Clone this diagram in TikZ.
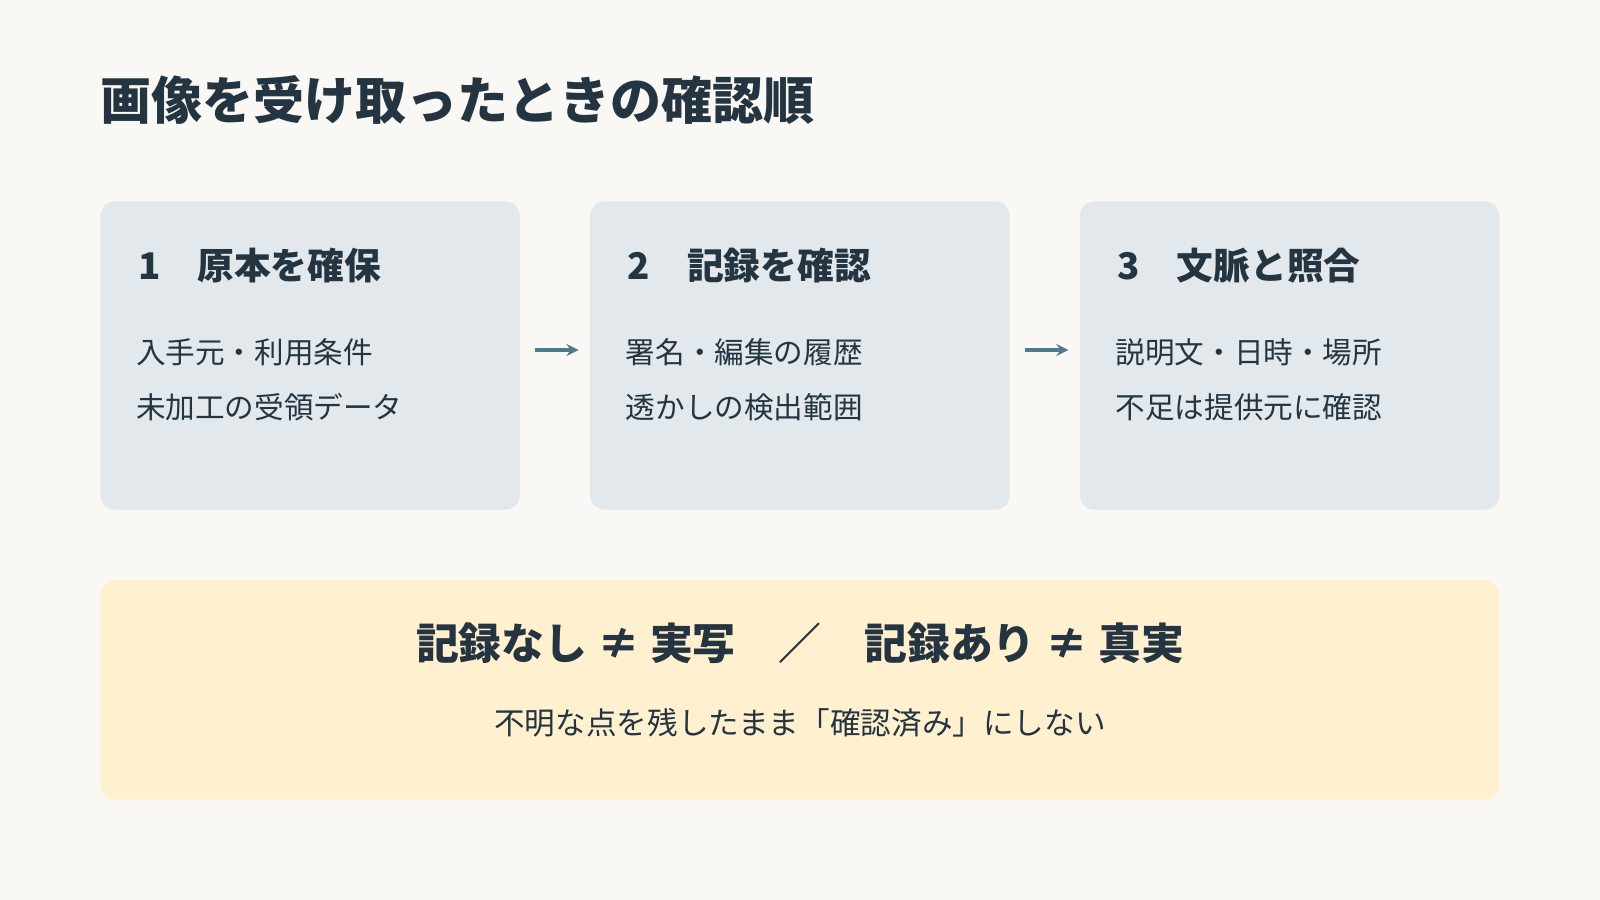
\documentclass[tikz,border=0pt]{standalone}
\usepackage{fontspec}
\setmainfont{Noto Sans CJK JP}
\usetikzlibrary{positioning}
\definecolor{bgpaper}{HTML}{F9F8F4}
\definecolor{stepfill}{HTML}{E2E8EC}
\definecolor{notefill}{HTML}{FFF0D0}
\definecolor{inkdark}{HTML}{243440}
\definecolor{arrowblue}{HTML}{4E7A8C}
\tikzset{
  stepbox/.style={fill=stepfill, rounded corners=7pt, minimum width=205.5pt, minimum height=151pt, anchor=north west, inner sep=0pt},
  head/.style={anchor=west, inner sep=0pt, font=\fontsize{18}{22}\selectfont\bfseries, text=inkdark},
  body/.style={anchor=west, inner sep=0pt, font=\fontsize{14.5}{27}\selectfont, text=inkdark, align=left},
  flow/.style={->, >=stealth, line width=1.6pt, draw=arrowblue}
}
\begin{document}
\begin{tikzpicture}[x=0.5pt, y=-0.5pt]
\fill[bgpaper] (0,0) rectangle (1568,882);
\useasboundingbox (0,0) rectangle (1568,882);
\node (title) [anchor=west, inner sep=0pt, font=\fontsize{25}{30}\selectfont\bfseries, text=inkdark] at (98,98) {画像を受け取ったときの確認順};
% steps
\node (s1) [stepbox] at (98,197) {};
\node (s2) [stepbox] at (578,197) {};
\node (s3) [stepbox] at (1058,197) {};
\node (h1) [head] at (135,260) {1　原本を確保};
\node (h2) [head] at (615,260) {2　記録を確認};
\node (h3) [head] at (1095,260) {3　文脈と照合};
\node (b1) [body] at (133,372) {入手元・利用条件\\未加工の受領データ};
\node (b2) [body] at (613,372) {署名・編集の履歴\\透かしの検出範囲};
\node (b3) [body] at (1093,372) {説明文・日時・場所\\不足は提供元に確認};
\coordinate (a1) at (524,343);
\coordinate (a1e) at (567,343);
\coordinate (a2) at (1004,343);
\coordinate (a2e) at (1047,343);
\draw [flow] (a1) -- (a1e);
\draw [flow] (a2) -- (a2e);
% note
\node (note) [fill=notefill, rounded corners=7pt, minimum width=685.5pt, minimum height=107.5pt, anchor=north west, inner sep=0pt] at (98,568) {};
\node (nhead) [inner sep=0pt, font=\fontsize{21}{25}\selectfont\bfseries, text=inkdark] at (784,630) {記録なし ≠ 実写　／　記録あり ≠ 真実};
\node (nbody) [inner sep=0pt, font=\fontsize{15}{18}\selectfont, text=inkdark] at (784,708) {不明な点を残したまま「確認済み」にしない};
\end{tikzpicture}
\end{document}
